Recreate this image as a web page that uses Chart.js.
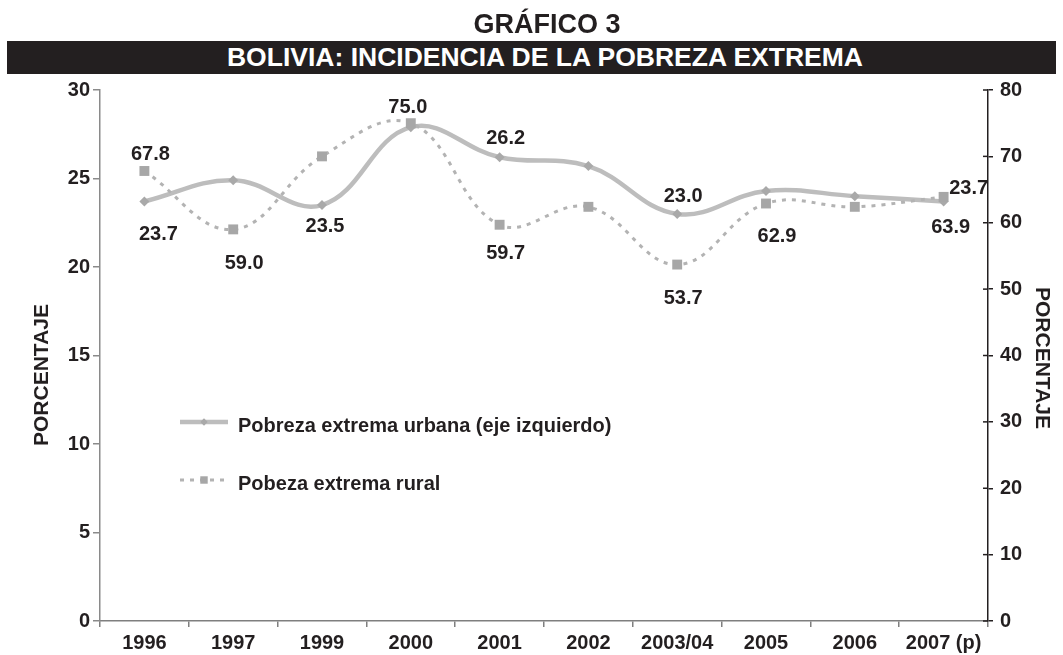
<!DOCTYPE html>
<html lang="es">
<head>
<meta charset="utf-8">
<title>Bolivia: incidencia de la pobreza extrema</title>
<script src="https://cdn.jsdelivr.net/npm/chart.js@4.4.1/dist/chart.umd.min.js"></script>
<style>
    html, body { margin: 0; padding: 0; background: #fff; }
    .wrap { position: relative; width: 1063px; height: 655px; font-family: "Liberation Sans", Arial, sans-serif; color: #231f20; }
    .wrap canvas { position: absolute; left: 0; top: 0; }
    .num { position: absolute; left: 0; top: 9px; width: 1094px; text-align: center; font-size: 27px; font-weight: bold; line-height: 30px; }
    .banner { position: absolute; left: 7px; top: 41px; width: 1049px; height: 33px; box-sizing: border-box; padding-left: 27px;
              background: #231f20; color: #fff; text-align: center; font-size: 26.5px; font-weight: bold; line-height: 33px; white-space: nowrap; }
</style>
</head>
<body>
<div class="wrap">
    <canvas id="chart" width="1063" height="655"></canvas>
    <div class="num">GRÁFICO 3</div>
    <div class="banner">BOLIVIA: INCIDENCIA DE LA POBREZA EXTREMA</div>
</div>
<script>
const years = ['1996', '1997', '1999', '2000', '2001', '2002', '2003/04', '2005', '2006', '2007 (p)'];
const urbana = [23.7, 24.9, 23.5, 27.9, 26.2, 25.7, 23.0, 24.3, 24.0, 23.7];
const rural = [67.8, 59.0, 70.0, 75.0, 59.7, 62.4, 53.7, 62.9, 62.4, 63.9];
const leftTicks = [0, 5, 10, 15, 20, 25, 30];
const rightTicks = [0, 10, 20, 30, 40, 50, 60, 70, 80];

// which points get a value label, and where it sits relative to the point [index, dx, dy]
const urbanaLabels = [[0, 14, 31], [2, 3, 20], [4, 6, -20], [6, 6, -19], [9, 25, -15]];
const ruralLabels = [[0, 6, -18], [1, 11, 33], [3, -3, -17], [4, 6, 27], [6, 6, 32], [7, 11, 31], [9, 7, 29]];

const FONT = '"Liberation Sans", Arial, sans-serif';
const INK = '#231f20';
const tickFont = { family: FONT, size: 20, weight: 'bold' };

function marker(ctx, style, x, y, r) {
    ctx.beginPath();
    if (style === 'rectRot') {
        ctx.moveTo(x, y - r); ctx.lineTo(x + r, y); ctx.lineTo(x, y + r); ctx.lineTo(x - r, y);
    } else {
        const h = r * Math.SQRT1_2;
        ctx.rect(x - h, y - h, 2 * h, 2 * h);
    }
    ctx.closePath();
    ctx.fill();
}

function drawKey(ctx, ds, x, y, text) {
    ctx.save();
    ctx.strokeStyle = ds.borderColor;
    ctx.lineWidth = ds.borderWidth;
    ctx.setLineDash(ds.borderDash || []);
    ctx.beginPath();
    ctx.moveTo(x, y);
    ctx.lineTo(x + 48, y);
    ctx.stroke();
    ctx.setLineDash([]);
    ctx.fillStyle = ds.pointBackgroundColor;
    marker(ctx, ds.pointStyle, x + 24, y, ds.pointRadius * 0.75);
    ctx.fillStyle = INK;
    ctx.font = 'bold 20px ' + FONT;
    ctx.textAlign = 'left';
    ctx.textBaseline = 'alphabetic';
    ctx.fillText(text, x + 58, y + 10);
    ctx.restore();
}

const extras = {
    id: 'extras',
    afterDatasetsDraw(chart) {
        const ctx = chart.ctx;
        const area = chart.chartArea;
        ctx.save();

        // value labels
        ctx.font = 'bold 20px ' + FONT;
        ctx.fillStyle = INK;
        ctx.textAlign = 'center';
        ctx.textBaseline = 'alphabetic';
        [[0, urbanaLabels], [1, ruralLabels]].forEach(([di, list]) => {
            const meta = chart.getDatasetMeta(di);
            const vals = chart.data.datasets[di].data;
            list.forEach(([i, dx, dy]) => {
                const p = meta.data[i];
                ctx.fillText(vals[i].toFixed(1), p.x + dx, p.y + dy + 7);
            });
        });

        // right axis ticks cross the axis line
        const y1 = chart.scales.y1;
        ctx.strokeStyle = INK;
        ctx.lineWidth = 1.5;
        y1.ticks.forEach(t => {
            const py = y1.getPixelForValue(t.value);
            ctx.beginPath();
            ctx.moveTo(area.right - 5, py);
            ctx.lineTo(area.right, py);
            ctx.stroke();
        });

        // axis titles
        ctx.font = 'bold 21px ' + FONT;
        ctx.textBaseline = 'middle';
        ctx.save();
        ctx.translate(42, 375);
        ctx.rotate(-Math.PI / 2);
        ctx.fillText('PORCENTAJE', 0, 0);
        ctx.restore();
        ctx.save();
        ctx.translate(1042, 358);
        ctx.rotate(Math.PI / 2);
        ctx.fillText('PORCENTAJE', 0, 0);
        ctx.restore();

        // legend inside the plot
        const ds = chart.data.datasets;
        drawKey(ctx, ds[0], area.left + 80, 422, 'Pobreza extrema urbana (eje izquierdo)');
        drawKey(ctx, ds[1], area.left + 80, 480, 'Pobeza extrema rural');

        ctx.restore();
    }
};

new Chart(document.getElementById('chart'), {
    type: 'line',
    data: {
        labels: years,
        datasets: [{
            label: 'Pobreza extrema urbana (eje izquierdo)',
            data: urbana,
            yAxisID: 'y',
            order: 1,
            borderColor: '#bdbdbd',
            borderWidth: 4.5,
            tension: 0.4,
            pointStyle: 'rectRot',
            pointRadius: 5,
            pointBackgroundColor: '#a9a9a9',
            pointBorderWidth: 0
        }, {
            label: 'Pobeza extrema rural',
            data: rural,
            yAxisID: 'y1',
            order: 0,
            borderColor: '#b3b3b3',
            borderWidth: 3,
            borderDash: [4, 6],
            tension: 0.4,
            pointStyle: 'rect',
            pointRadius: 7,
            pointBackgroundColor: '#a7a7a7',
            pointBorderWidth: 0
        }]
    },
    options: {
        responsive: false,
        animation: false,
        devicePixelRatio: 1,
        layout: { padding: { top: 90, left: 0, right: 0, bottom: 0 } },
        plugins: {
            legend: { display: false },
            tooltip: { enabled: false },
            title: { display: false }
        },
        scales: {
            x: {
                offset: true,
                grid: { offset: true, drawOnChartArea: false, tickLength: 6, color: '#7f7f7f', lineWidth: 1.5 },
                border: { color: '#7f7f7f', width: 1.5 },
                ticks: { color: INK, font: tickFont, padding: 4, maxRotation: 0, autoSkip: false },
                afterFit(s) { s.height = 34; }
            },
            y: {
                position: 'left',
                min: 0,
                max: 30,
                afterBuildTicks(s) { s.ticks = leftTicks.map(v => ({ value: v })); },
                grid: { drawOnChartArea: false, tickLength: 7, color: '#8a8a8a', lineWidth: 1.5 },
                border: { color: '#8a8a8a', width: 1.5 },
                ticks: { color: INK, font: tickFont, padding: 3 },
                afterFit(s) { s.width = 100; }
            },
            y1: {
                position: 'right',
                min: 0,
                max: 80,
                afterBuildTicks(s) { s.ticks = rightTicks.map(v => ({ value: v })); },
                grid: { drawOnChartArea: false, tickLength: 5, color: INK, lineWidth: 1.5 },
                border: { color: INK, width: 1.5 },
                ticks: { color: INK, font: tickFont, padding: 7 },
                afterFit(s) { s.width = 75; }
            }
        }
    },
    plugins: [extras]
});
</script>
</body>
</html>
